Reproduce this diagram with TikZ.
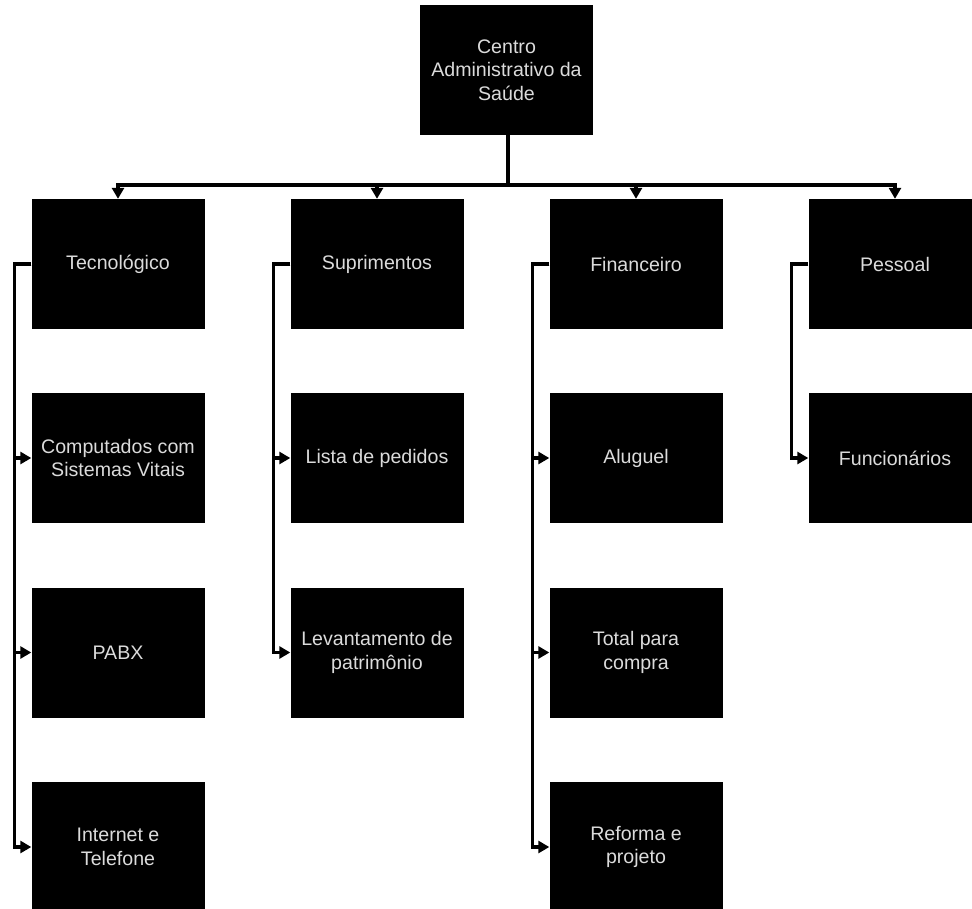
\documentclass[tikz,border=0pt]{standalone}
\usepackage{fontspec}
\setmainfont{Liberation Sans}
\usetikzlibrary{arrows.meta}
\begin{document}
\begin{tikzpicture}[x=1pt,y=-1pt,
  unit/.style={fill=black, text=white!86!black, minimum width=173pt,
    minimum height=130pt, inner sep=0pt, align=center,
    font=\fontsize{19.6}{23.5}\selectfont},
  wire/.style={line width=3.2pt, line join=miter},
  link/.style={wire, -{Triangle[length=11pt,width=12pt]}},
  ]
\useasboundingbox (0,0) rectangle (972,908);
\clip (0,0) rectangle (972,908);

% head of the organisation
\node[unit] (head) at (506.5,70) {Centro\\Administrativo da\\Saúde};

% departments
\node[unit] (tec) at (118,264) {Tecnológico};
\node[unit] (sup) at (377,264) {Suprimentos};
\node[unit] (fin) at (636,264) {Financeiro};
\node[unit] (pes) at (895,264) {Pessoal};

% sections of each department
\node[unit] (tec1) at (118,458) {Computados com\\Sistemas Vitais};
\node[unit] (tec2) at (118,652.5) {PABX};
\node[unit] (tec3) at (118,847) {Internet e\\Telefone};

\node[unit] (sup1) at (377,458) {Lista de pedidos};
\node[unit] (sup2) at (377,652.5) {Levantamento de\\patrimônio};

\node[unit] (fin1) at (636,458) {Aluguel};
\node[unit] (fin2) at (636,652.5) {Total para\\compra};
\node[unit] (fin3) at (636,847) {Reforma e\\projeto};

\node[unit] (pes1) at (895,458) {Funcionários};

% bus from the head to the departments
\coordinate (bus) at (508,185);
\draw[wire] (head.south -| bus) -- (bus);
\foreach \d in {tec,sup,fin,pes}
  \draw[link] (bus) -| (\d.north);

% side rails from each department to its sections
\foreach \d/\s in {tec/tec1,tec/tec2,tec/tec3,sup/sup1,sup/sup2,
                   fin/fin1,fin/fin2,fin/fin3,pes/pes1}
  \draw[link] (\d.west) -- ++(-17,0) |- (\s.west);
\end{tikzpicture}
\end{document}
